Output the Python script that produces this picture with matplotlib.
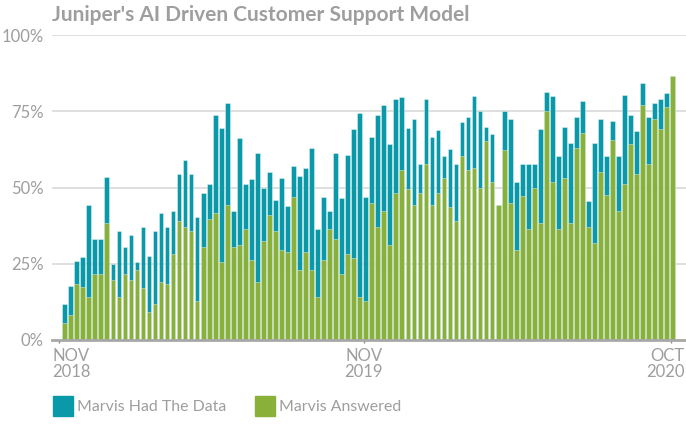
import numpy as np
import matplotlib
matplotlib.use("Agg")
import matplotlib.pyplot as plt
from matplotlib.patches import Rectangle

plt.rcParams['font.family'] = ['Lato', 'DejaVu Sans']

# weekly values, percent
had_data = [11.7, 17.6, 25.8, 27.1, 44.4, 33.0, 33.0, 53.6, 25.0, 35.6, 30.4, 34.3, 25.6, 37.0, 27.7, 35.6, 41.8,
            37.0, 42.4, 54.4, 59.0, 54.4, 40.3, 48.3, 51.0, 73.8, 69.6, 77.8, 42.4, 66.3, 51.0, 52.9, 61.2,
            49.9, 55.1, 45.8, 53.0, 43.8, 57.1, 53.7, 56.4, 63.1, 36.4, 47.0, 42.4, 61.2, 46.5, 60.5, 69.2, 74.4,
            46.9, 66.4, 73.8, 77.1, 64.4, 79.1, 79.8, 69.6, 72.3, 57.8, 79.1, 66.4, 69.0, 60.4, 62.5, 57.8,
            71.6, 73.1, 79.9, 75.1, 69.7, 67.7, 44.3, 75.1, 72.4, 51.7, 57.8, 57.8, 57.8, 69.2, 81.2, 79.9, 60.4,
            69.7, 64.5, 73.0, 78.5, 45.7, 64.5, 72.4, 60.4, 71.7, 60.4, 80.4, 73.7, 68.4, 84.4, 73.0, 77.7, 79.1, 81.1, 86.4]
answered = [5.7, 8.2, 18.3, 17.5, 14.2, 21.8, 21.8, 38.4, 19.7, 14.2, 21.6, 19.7, 23.0, 17.0, 9.1, 11.7, 18.9,
            18.3, 28.3, 38.9, 37.0, 35.6, 12.9, 30.4, 39.6, 41.6, 25.5, 44.2, 30.4, 31.0, 36.3, 26.3, 18.9,
            32.3, 41.0, 35.6, 29.6, 28.9, 46.9, 22.9, 28.9, 22.9, 14.2, 26.3, 36.3, 33.0, 21.6, 28.3, 27.0, 14.2,
            12.9, 44.9, 37.0, 42.4, 31.0, 48.3, 55.7, 49.5, 44.2, 48.3, 57.6, 44.2, 48.3, 53.0, 43.5, 38.9,
            60.3, 55.7, 56.3, 49.8, 65.1, 51.7, 44.3, 62.4, 44.9, 29.6, 47.1, 36.3, 49.8, 38.4, 75.1, 51.7, 36.3,
            53.1, 38.3, 62.9, 67.8, 37.0, 31.7, 55.0, 47.6, 65.7, 42.3, 51.0, 64.3, 54.3, 77.1, 57.7, 72.4, 69.1, 76.3, 86.4]

series_names = ["Marvis Had The Data", "Marvis Answered"]
date_labels = ["NOV\n2018", "NOV\n2019", "OCT\n2020"]
date_pos = [-0.95, 49.7, 100.7]   # week index of each label
y_ticks = [0, 25, 50, 75, 100]

teal = "#0a99a8"
green = "#89b13a"
grey = "#9e9e9e"

fig = plt.figure(figsize=(6.86, 4.34), dpi=100)
ax = fig.add_axes([52 / 686, 1 - 340 / 434, 634 / 686, 305 / 434])

x = np.arange(len(had_data))
ax.bar(x, had_data, width=0.78, color=teal, edgecolor=(1, 1, 1, 0.45), linewidth=0.6, zorder=2)
ax.bar(x, answered, width=0.78, color=green, edgecolor=(1, 1, 1, 0.45), linewidth=0.6, zorder=3)

ax.set_xlim(-2.11, 103.2)
ax.set_ylim(0, 100)
ax.set_yticks(y_ticks)
ax.set_yticklabels([f"{v}%" for v in y_ticks], fontsize=12, color=grey)
ax.tick_params(axis='y', length=0, pad=6)
for v in y_ticks[1:]:
    ax.axhline(v, color="#dcdcdc", linewidth=1.3, zorder=1)
ax.axhline(0, color="#a8a8a8", linewidth=2, zorder=4, clip_on=False)

for s in ax.spines.values():
    s.set_visible(False)

ax.set_xticks(date_pos)
ax.set_xticklabels([])
ax.tick_params(axis='x', length=2.5, width=1, color="#888888", direction='out', pad=0)
aligns = ['left', 'center', 'right']
offs = [-1.1, 0, 2.2]
for lab, p, ha, o in zip(date_labels, date_pos, aligns, offs):
    ax.text(p + o, -2.6, lab, ha=ha, va='top', fontsize=12, color=grey,
            linespacing=1.0, transform=ax.transData)

fig.text(52 / 686, 1 - 15 / 434, "Juniper's AI Driven Customer Support Model", fontsize=15,
         fontweight='bold', color=grey, va='center', ha='left')

# legend
for i, (name, col) in enumerate(zip(series_names, [teal, green])):
    lx = [53, 255][i]
    fig.patches.append(Rectangle((lx / 686, 1 - 416 / 434), 20 / 686, 20 / 434,
                                 transform=fig.transFigure, color=col))
    fig.text((lx + 24) / 686, 1 - 407 / 434, name, fontsize=11.4, color=grey, va='center', ha='left')

fig.savefig("out.png", dpi=100)
